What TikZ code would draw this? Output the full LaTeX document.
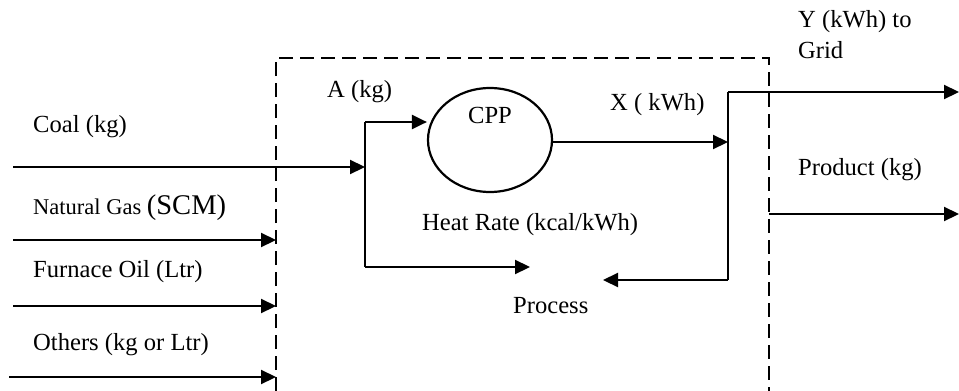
\documentclass[tikz,border=0pt]{standalone}
\usepackage{fontspec}
\setmainfont{Liberation Serif}
\usetikzlibrary{arrows.meta,shapes.geometric}
\begin{document}
\begin{tikzpicture}[x=1pt,y=-1pt,
  lbl/.style={inner sep=0pt, anchor=base west, font=\fontsize{24.6}{29}\selectfont},
  flow/.style={line width=2.2pt, -{Triangle[length=15pt,width=14pt]}},
  plain/.style={line width=2.2pt},
  bound/.style={line width=2.2pt, dash pattern=on 14pt off 7pt}]
\useasboundingbox (0,0) rectangle (959,391);
% boundary
\coordinate (bl) at (276,391);
\coordinate (tl) at (276,58);
\coordinate (tr) at (769,58);
\coordinate (br) at (769,391);
\draw[bound] (bl) -- (tl) -- (tr) -- (br);
% CPP
\node[draw, line width=2.2pt, ellipse, minimum width=124pt, minimum height=104pt, inner sep=0pt] (cpp) at (490,140) {};
\node[lbl, anchor=base] (cpplbl) at (490,123) {CPP};
% coordinates
\coordinate (coalS) at (13,167);
\coordinate (split) at (365,167);
\coordinate (splitT) at (365,122);
\coordinate (splitB) at (365,267);
\coordinate (procIn) at (530,267);
\coordinate (xEnd) at (728,142);
\coordinate (vT) at (728,92);
\coordinate (vB) at (728,280);
\coordinate (procOut) at (603,280);
\coordinate (gridEnd) at (959,92);
\coordinate (prodS) at (769,214);
\coordinate (prodEnd) at (959,214);
\coordinate (ngS) at (13,240);
\coordinate (ngE) at (276,240);
\coordinate (foS) at (13,306);
\coordinate (foE) at (276,306);
\coordinate (otS) at (9,377);
\coordinate (otE) at (276,377);
% flows
\draw[flow] (coalS) -- (split);
\draw[plain] (splitT) -- (splitB);
\draw[flow] (splitT) -- (cpp.west |- splitT);
\draw[flow] (splitB) -- (procIn);
\draw[flow] (cpp.east |- xEnd) -- (xEnd);
\draw[plain] (vT) -- (vB);
\draw[flow] (vB) -- (procOut);
\draw[flow] (vT) -- (gridEnd);
\draw[flow] (prodS) -- (prodEnd);
\draw[flow] (ngS) -- (ngE);
\draw[flow] (foS) -- (foE);
\draw[flow] (otS) -- (otE);
% labels
\node[lbl] (lcoal) at (33,132) {Coal (kg)};
\node[lbl] (lng) at (33,214) {{\fontsize{22.5}{26}\selectfont Natural Gas }{\fontsize{28.5}{32}\selectfont (SCM)}};
\node[lbl] (lfo) at (33,277) {Furnace Oil (Ltr)};
\node[lbl] (lot) at (33,350) {Others (kg or Ltr)};
\node[lbl] (la) at (327,97) {A (kg)};
\node[lbl] (lx) at (610,110) {X ( kWh)};
\node[lbl] (lhr) at (422,230) {Heat Rate (kcal/kWh)};
\node[lbl] (lproc) at (513,313) {Process};
\node[lbl] (ly1) at (798,27) {Y (kWh) to};
\node[lbl] (ly2) at (798,58) {Grid};
\node[lbl] (lprod) at (798,175) {Product (kg)};
\end{tikzpicture}
\end{document}
